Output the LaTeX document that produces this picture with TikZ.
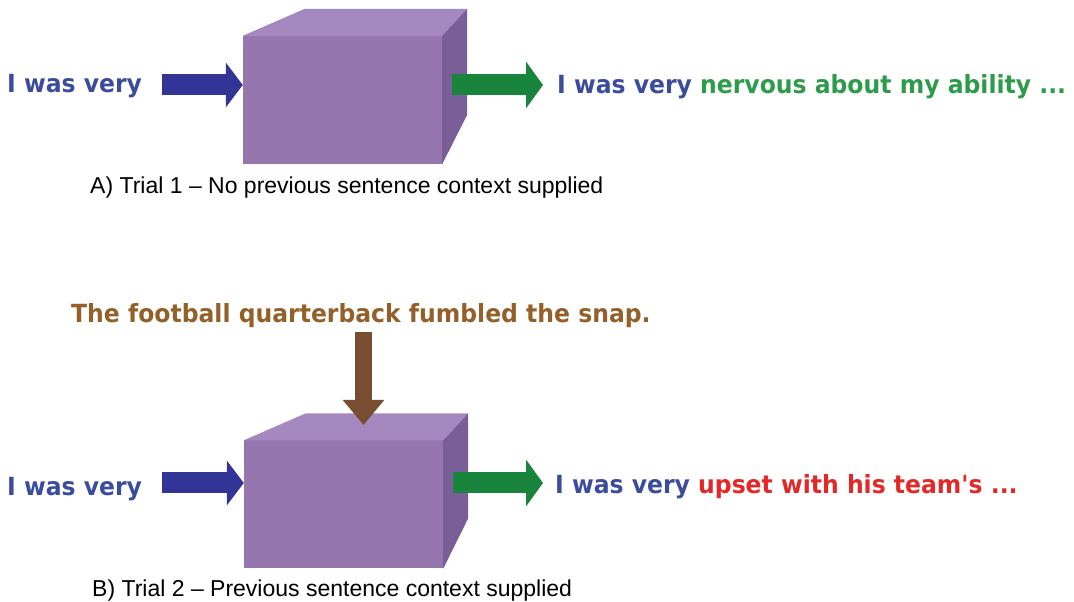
\documentclass[tikz,border=0pt]{standalone}
\usepackage{fontspec}
\setmainfont{Liberation Sans}
\newfontfamily\headfont{DejaVu Sans}
\usetikzlibrary{calc, arrows.meta, positioning}

\definecolor{txtblue}{RGB}{60,76,156}
\definecolor{txtgreen}{RGB}{44,156,74}
\definecolor{txtred}{RGB}{228,40,40}
\definecolor{txtbrown}{RGB}{146,96,40}
\definecolor{arrblue}{RGB}{50,52,150}
\definecolor{arrgreen}{RGB}{24,132,60}
\definecolor{arrbrown}{RGB}{120,78,48}
\definecolor{boxfront}{RGB}{150,118,174}
\definecolor{boxtop}{RGB}{166,136,192}
\definecolor{boxside}{RGB}{122,94,152}

\begin{document}
\begin{tikzpicture}[x=1pt, y=1pt,
    word/.style={inner sep=0pt, anchor=base west, xscale=0.94,
        font=\headfont\bfseries\fontsize{25}{28}\selectfont},
    caption/.style={inner sep=0pt, anchor=base west,
        font=\fontsize{23}{26}\selectfont},
    front/.style={fill=boxfront, inner sep=0pt,
        minimum width=199pt, minimum height=128pt},
    inarrow/.style={arrblue, line width=21pt, -{Triangle[length=17pt, width=44pt]}},
    outarrow/.style={arrgreen, line width=21pt, -{Triangle[length=17pt, width=46pt]}},
    ctxarrow/.style={arrbrown, line width=17pt, -{Triangle[length=25pt, width=40pt]}}]

    \useasboundingbox (0,0) rectangle (1074,602);

    % ==========================================
    % 1. TRIAL 1: no context
    % ==========================================
    \node[front] (boxA) at (342.5,502) {};
    \fill[boxtop] (boxA.north west) -- (boxA.north east) -- ++(25,27)
        -- ($(boxA.north west)+(62,27)$) -- cycle;
    \fill[boxside] (boxA.north east) -- ++(25,27) -- ++(0,-106)
        -- (boxA.south east) -- cycle;

    \node[word, text=txtblue] (inA) at (7,509) {I was very};
    \coordinate (startA) at (162,517);
    \draw[inarrow] (startA) -- (boxA.west |- startA);

    \coordinate (outA) at (543,517);
    \draw[outarrow] ([xshift=10pt]boxA.east |- outA) -- (outA);
    \node[word, text=txtblue] (resA) at (557,508)
        {I was very \textcolor{txtgreen}{nervous about my ability ...}};

    \node[caption] (capA) at (90,408) {A) Trial 1 -- No previous sentence context supplied};

    % ==========================================
    % 2. TRIAL 2: previous sentence supplied
    % ==========================================
    \node[front] (boxB) at (343.5,97.5) {};
    \fill[boxtop] (boxB.north west) -- (boxB.north east) -- ++(25,27)
        -- ($(boxB.north west)+(62,27)$) -- cycle;
    \fill[boxside] (boxB.north east) -- ++(25,27) -- ++(0,-105)
        -- (boxB.south east) -- cycle;

    % context sentence and its arrow
    \node[word, text=txtbrown] (ctx) at (71,279) {The football quarterback fumbled the snap.};
    \coordinate (ctxtop) at (363.5,270);
    \coordinate (ctxtip) at (363.5,177);
    \draw[ctxarrow] (ctxtop) -- (ctxtip);

    \node[word, text=txtblue] (inB) at (7,106) {I was very};
    \coordinate (startB) at (162,119);
    \draw[inarrow] (startB) -- (boxB.west |- startB);

    \coordinate (outB) at (543,119);
    \draw[outarrow] ([xshift=10pt]boxB.east |- outB) -- (outB);
    \node[word, text=txtblue] (resB) at (555,108)
        {I was very \textcolor{txtred}{upset with his team\textquotesingle s ...}};

    \node[caption] (capB) at (92,5) {B) Trial 2 -- Previous sentence context supplied};

\end{tikzpicture}
\end{document}
